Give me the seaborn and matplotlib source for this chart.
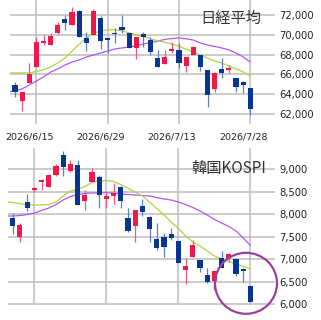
import pandas as pd
import matplotlib
matplotlib.use("Agg")
import matplotlib.pyplot as plt
import seaborn as sns
from matplotlib.patches import Ellipse
from matplotlib.transforms import ScaledTranslation
from matplotlib.ticker import FuncFormatter

sns.set_style("white")
plt.rcParams['font.family'] = ['DejaVu Sans', 'Noto Sans CJK JP']

# trading days shown (7/20 is a holiday in Japan)
dates = [d for d in pd.bdate_range('2026-06-10', '2026-07-28') if d != pd.Timestamp('2026-07-20')]
tick_dates = ['2026-06-15', '2026-06-29', '2026-07-13', '2026-07-28']

# Nikkei 225
nk_open = [64930, 63310, 65130, 66750, 69170, 68970, 70180, 71600, 70990, 72400, 69680, 69980,
           71700, 69630, 70130, 70790, 70180, 68670, 70080, 69480, 67660, 67050, 68360, 68470,
           66850, 67960, 67960, 66450, 64530, 66550, 66450, 65640, 65230, 64630]
nk_high = [65230, 64220, 67150, 69780, 69980, 70180, 71290, 72000, 72810, 72500, 70280, 72600,
           71900, 69680, 70690, 72000, 70180, 69780, 70280, 69780, 68470, 68470, 69270, 69170,
           67760, 68870, 67960, 66450, 66240, 67660, 66950, 65640, 65330, 64630]
nk_low = [63720, 62300, 65130, 66750, 68970, 68970, 70080, 70490, 70990, 69780, 68360, 69980,
          68570, 68160, 69170, 70180, 68670, 67560, 68770, 67960, 66750, 67050, 68160, 66650,
          66240, 67960, 66340, 62710, 64220, 65640, 66140, 64220, 64120, 61900]
nk_close = [64220, 64220, 66040, 69270, 69370, 69880, 70990, 71190, 72300, 69780, 69170, 72400,
            69370, 69480, 70080, 70490, 68670, 69780, 69780, 68260, 66750, 67760, 68570, 67150,
            67760, 68770, 66750, 63920, 66140, 66140, 66650, 64730, 64930, 62510]
# moving averages (first value is the day before the window)
nk_ma_short = [66150, 66150, 66150, 66150, 66300, 66450, 66750, 67150, 67650, 68350, 69050, 69700,
               70150, 70400, 70500, 70500, 70400, 70200, 70000, 69800, 69600, 69400, 69250, 69050,
               68850, 68550, 68250, 67950, 67650, 67350, 67150, 66850, 66550, 66250, 65850]
nk_ma_long = [64220, 64320, 64530, 64930, 65330, 65740, 66240, 66550, 66950, 67250, 67460, 67760,
              67960, 68160, 68360, 68570, 68670, 68770, 68870, 69070, 69220, 69370, 69530, 69630,
              69680, 69600, 69470, 69170, 68970, 68820, 68670, 68470, 68160, 67760, 67250]

# KOSPI
ks_open = [7920, 7499, 8262, 8534, 8705, 8608, 8867, 9310, 8956, 9089, 8291, 8705,
           8829, 8335, 8401, 8608, 7920, 7736, 8186, 7943, 7441, 7499, 7552, 7411,
           6761, 7056, 6983, 6650, 6517, 7034, 7020, 7005, 6783, 6413]
ks_high = [8018, 7796, 8439, 8608, 8772, 8882, 9104, 9406, 9200, 9200, 8534, 9029,
           8867, 8512, 8683, 8630, 8129, 8091, 8335, 7965, 7796, 7574, 7685, 7411,
           7020, 7426, 6983, 6812, 6739, 7182, 7131, 7005, 6799, 6413]
ks_low = [7552, 7388, 8069, 8483, 8534, 8594, 8851, 8851, 8940, 8202, 8091, 8705,
          8129, 8129, 8217, 8142, 7610, 7375, 7965, 7388, 7204, 7056, 7426, 6909,
          6444, 7056, 6723, 6466, 6318, 6799, 6932, 6635, 6488, 6045]
ks_close = [7743, 7758, 8129, 8572, 8756, 8867, 9073, 9051, 9104, 8202, 8424, 8940,
            8424, 8401, 8461, 8297, 7625, 8091, 8053, 7663, 7242, 7277, 7464, 6909,
            6856, 7315, 6812, 6488, 6739, 6799, 7109, 6665, 6745, 6058]
ks_ma_short = [8280, 8257, 8235, 8202, 8202, 8202, 8213, 8268, 8401, 8512, 8546, 8612,
               8701, 8734, 8745, 8723, 8656, 8572, 8490, 8401, 8268, 8124, 7980, 7825,
               7681, 7515, 7382, 7293, 7182, 7071, 7005, 6945, 6894, 6838, 6783]
ks_ma_long = [7958, 7958, 7969, 7991, 8025, 8080, 8135, 8213, 8313, 8390, 8435, 8457,
              8468, 8472, 8475, 8468, 8446, 8435, 8424, 8413, 8401, 8368, 8335, 8313,
              8268, 8213, 8146, 8069, 7980, 7880, 7803, 7725, 7625, 7470, 7304]

UP = '#f2184b'
DOWN = '#083492'
UP_WICK = '#f5587c'
DOWN_WICK = '#5d80c4'
MA_SHORT = '#b3d33f'
MA_LONG = '#b456f2'
GRID = '#bdbdbd'


def draw_candles(ax, o, h, l, c, min_body, ylim, xlim, yticks):
    df = pd.DataFrame({'open': o, 'high': h, 'low': l, 'close': c})
    df['x'] = range(len(df))
    df['up'] = df['close'] >= df['open']
    df['bottom'] = df[['open', 'close']].min(axis=1)
    df['height'] = (df['close'] - df['open']).abs().clip(lower=min_body)
    for up, sub in df.groupby('up'):
        ax.vlines(sub['x'], sub['low'], sub['high'], color=UP_WICK if up else DOWN_WICK,
                  lw=0.9, zorder=3)
        ax.bar(sub['x'], sub['height'], bottom=sub['bottom'], width=0.72,
               color=UP if up else DOWN, linewidth=0, zorder=4)
    ax.set_xlim(*xlim)
    ax.set_ylim(*ylim)
    ax.set_yticks(yticks)
    ax.yaxis.tick_right()
    ax.yaxis.set_major_formatter(FuncFormatter(lambda v, p: f'{int(v):,}'))
    ax.tick_params(axis='y', length=0, pad=3, labelsize=7.2, labelcolor='#222222')
    tick_idx = [dates.index(pd.Timestamp(t)) for t in tick_dates]
    ax.set_xticks(tick_idx)
    ax.grid(True, color=GRID, lw=1.1, zorder=0)
    for s in ax.spines.values():
        s.set_visible(False)


def draw_ma(ax, short, long_):
    ma = pd.DataFrame({'x': range(-1, len(short) - 1), 'short': short, 'long': long_})
    sns.lineplot(data=ma, x='x', y='long', ax=ax, color=MA_LONG, lw=0.9, zorder=2)
    sns.lineplot(data=ma, x='x', y='short', ax=ax, color=MA_SHORT, lw=0.9, zorder=2)
    ax.set_xlabel('')
    ax.set_ylabel('')


fig = plt.figure(figsize=(3.21, 3.2), dpi=100)
ax1 = fig.add_axes([10.5 / 321, 1 - 124 / 320, 264.5 / 321, 124 / 320])
ax2 = fig.add_axes([7.5 / 321, 15 / 320, 267.5 / 321, 157 / 320])

draw_ma(ax1, nk_ma_short, nk_ma_long)
draw_candles(ax1, nk_open, nk_high, nk_low, nk_close, 150, (60990, 73515), (-0.63, 36.46),
             [62000, 64000, 66000, 68000, 70000, 72000])
ax1.set_xticklabels([t.replace('-0', '/').replace('-', '/') for t in tick_dates])
ax1.tick_params(axis='x', length=0, pad=6, labelsize=6.8, labelcolor='#222222')
for lab in ax1.get_xticklabels():
    lab.set_transform(lab.get_transform() + ScaledTranslation(-0.07, 0, fig.dpi_scale_trans))

draw_ma(ax2, ks_ma_short, ks_ma_long)
draw_candles(ax2, ks_open, ks_high, ks_low, ks_close, 30, (5985, 9466), (-0.72, 36.4),
             [6000, 6500, 7000, 7500, 8000, 8500, 9000])
ax2.set_xticklabels([])
ax2.tick_params(axis='x', length=0)

fig.text(261 / 321, 1 - 18 / 320, '日経平均', ha='right', va='center', fontsize=11,
         color='#333333', family=['Noto Sans CJK JP', 'DejaVu Sans'])
fig.text(266 / 321, 1 - 168 / 320, '韓国KOSPI', ha='right', va='center', fontsize=11,
         color='#333333', family=['Noto Sans CJK JP', 'DejaVu Sans'])

fig.add_artist(Ellipse((246 / 321, 1 - 283.3 / 320), 62 / 321, 61 / 320,
                       transform=fig.transFigure, fill=False, edgecolor='#9b3f9f', lw=1.6,
                       zorder=10))

fig.savefig('out.png', dpi=100)
